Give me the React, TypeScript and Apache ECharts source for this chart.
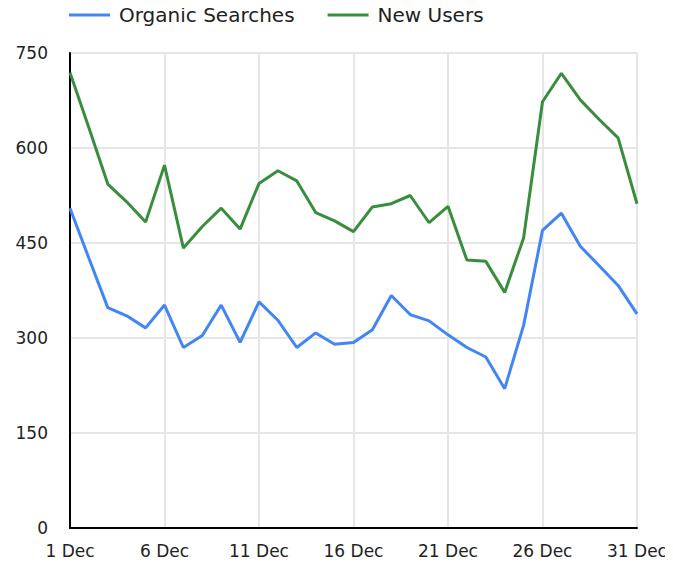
import React, { useEffect, useRef } from "react";
import * as echarts from "echarts";

const days: string[] = Array.from({ length: 31 }, (_, i) => `${i + 1} Dec`);
const organicSearches: number[] = [
  505, 426, 348, 335, 316, 352, 285, 304, 352, 293,
  357, 328, 285, 308, 290, 293, 313, 367, 337, 327,
  305, 285, 270, 220, 320, 470, 497, 445, 414, 383, 338,
];
const newUsers: number[] = [
  719, 632, 543, 515, 483, 573, 442, 476, 505, 472,
  544, 564, 548, 498, 485, 468, 507, 512, 525, 482,
  508, 423, 421, 372, 458, 673, 718, 676, 645, 616, 512,
];
const seriesNames: string[] = ["Organic Searches", "New Users"];
const colors: string[] = ["#4285F4", "#388E3C"];

const FONT = "'DejaVu Sans', sans-serif";

export default function App() {
  const ref = useRef<HTMLDivElement>(null);
  useEffect(() => {
    if (!ref.current) return;
    const chart = echarts.init(ref.current, null, { renderer: "svg" });
    chart.setOption({
      animation: false,
      color: colors,
      textStyle: { fontFamily: FONT },
      legend: {
        top: 5,
        left: 69,
        padding: 0,
        itemWidth: 41,
        itemHeight: 3,
        itemGap: 33,
        icon: "rect",
        textStyle: { fontSize: 20, color: "#222", fontFamily: FONT, padding: [0, 0, 0, 4] },
        data: seriesNames,
      },
      grid: { left: 70, right: 36, top: 53, bottom: 35, containLabel: false },
      xAxis: {
        type: "category",
        data: days,
        boundaryGap: false,
        axisLine: { lineStyle: { color: "#000", width: 2 } },
        axisTick: { show: false },
        axisLabel: { interval: 4, color: "#222", fontSize: 17, margin: 14, fontFamily: FONT },
        splitLine: { show: true, interval: 4, lineStyle: { color: "#e6e6e6", width: 2 } },
      },
      yAxis: {
        type: "value",
        min: 0,
        max: 750,
        interval: 150,
        axisLine: { show: true, lineStyle: { color: "#000", width: 2 } },
        axisTick: { show: false },
        axisLabel: { color: "#222", fontSize: 17, margin: 22, fontFamily: FONT },
        splitLine: { show: true, lineStyle: { color: "#e6e6e6", width: 2 } },
      },
      series: [
        {
          name: seriesNames[0],
          type: "line",
          data: organicSearches,
          symbol: "none",
          lineStyle: { width: 3 },
        },
        {
          name: seriesNames[1],
          type: "line",
          data: newUsers,
          symbol: "none",
          lineStyle: { width: 3 },
        },
      ],
    });
    return () => chart.dispose();
  }, []);
  return (
    <div
      ref={ref}
      style={{ width: 673, height: 563, marginTop: -8, marginLeft: -8 }}
    />
  );
}
